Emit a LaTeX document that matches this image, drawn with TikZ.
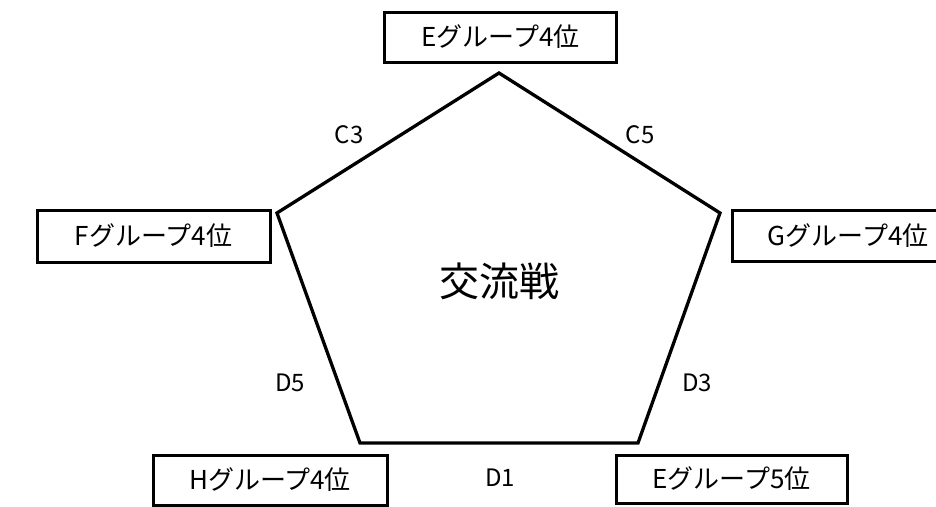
\documentclass[tikz,border=0pt]{standalone}
\usepackage{fontspec}
\setmainfont{Noto Sans CJK JP}
\begin{document}
\begin{tikzpicture}[x=1pt,y=-1pt,
  team/.style={draw=black,line width=3pt,fill=white,inner sep=0pt,font=\fontsize{26}{30}\selectfont},
  edgelbl/.style={inner sep=0pt,font=\fontsize{24}{28}\selectfont}]
\useasboundingbox (0,0) rectangle (936,506);
\clip (0,0) rectangle (936,506);
% pentagon
\coordinate (t) at (499,73);
\coordinate (ur) at (720,213);
\coordinate (lr) at (638,443);
\coordinate (ll) at (360,443);
\coordinate (ul) at (277,213);
\draw[line width=3.3pt,line join=miter] (t) -- (ur) -- (lr) -- (ll) -- (ul) -- cycle;
% teams
\node[team,minimum width=232pt,minimum height=50pt] (e4) at (500.5,37) {Eグループ4位};
\node[team,minimum width=233pt,minimum height=52pt] (f4) at (153.5,236) {Fグループ4位};
\node[team,minimum width=232pt,minimum height=51pt] (g4) at (848,235.5) {Gグループ4位};
\node[team,minimum width=234pt,minimum height=50pt] (h4) at (270,480) {Hグループ4位};
\node[team,minimum width=231pt,minimum height=48pt] (e5) at (731.5,479) {Eグループ5位};
% labels
\node[edgelbl] (c3) at (349,135) {C3};
\node[edgelbl] (c5) at (640,135) {C5};
\node[edgelbl] (d5) at (290,383) {D5};
\node[edgelbl] (d3) at (697,383) {D3};
\node[edgelbl] (d1) at (500,478) {D1};
\node[inner sep=0pt,font=\fontsize{40}{44}\selectfont] (center) at (499,281) {交流戦};
\end{tikzpicture}
\end{document}
